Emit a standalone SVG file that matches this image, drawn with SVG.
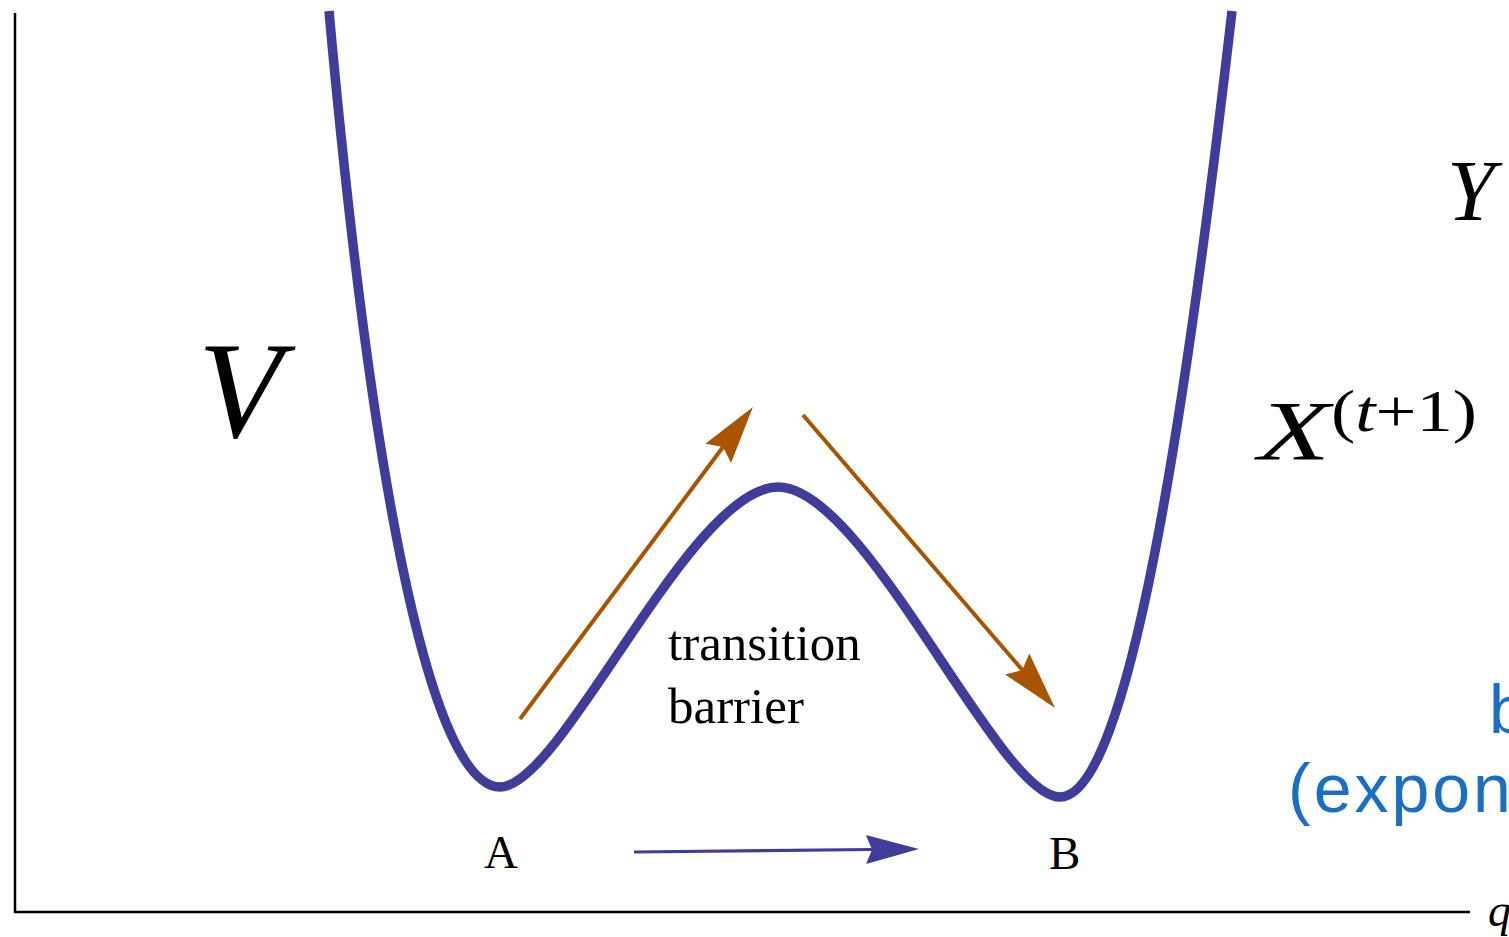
<svg xmlns="http://www.w3.org/2000/svg" width="1509" height="937" viewBox="0 0 1509 937">
<style>
.axis{stroke:#000;stroke-width:2.5;fill:none}
.curve{stroke:#403c9a;stroke-width:9.5;fill:none;stroke-linecap:butt}
.orange{stroke:#a85400;stroke-width:4;fill:none}
.blue{stroke:#403c9a;stroke-width:3.2;fill:none}
.serif{font-family:"Liberation Serif","DejaVu Serif",serif;fill:#000}
.math{font-family:"Liberation Serif","DejaVu Serif",serif;font-style:italic;fill:#000}
.sans{font-family:"Liberation Sans","Open Sans",sans-serif;fill:#1a6fc4}
</style>
<defs>
<marker id="headO" markerUnits="userSpaceOnUse" viewBox="-10 -20 62 40" markerWidth="62" markerHeight="40" refX="0" refY="0" orient="auto">
<path d="M50,0 L-8,-16 L0,0 L-8,16 Z" fill="#a85400"/>
</marker>
<marker id="headB" markerUnits="userSpaceOnUse" viewBox="-10 -20 62 40" markerWidth="62" markerHeight="40" refX="0" refY="0" orient="auto">
<path d="M47,0 L-6,-14.5 L0,0 L-6,14.5 Z" fill="#403c9a"/>
</marker>
</defs>
<rect width="1509" height="937" fill="#fff"/>
<g id="axes">
<line class="axis" x1="15" y1="13" x2="15" y2="913"/>
<line class="axis" x1="14" y1="912" x2="1470" y2="912"/>
<text class="math" x="1488" y="926" font-size="46">q</text>
</g>
<g id="potential">
<path class="curve" d="M329,11 C375,520 435,787 500,787 C562,787 690,487 778,487 C866,487 998,797 1060,797 C1128,797 1185,420 1232,11"/>
</g>
<g id="label-V"><text class="math" x="198" y="437" font-size="138">V</text></g>
<g id="label-Y"><text class="math" x="1447" y="220" font-size="86">Y</text></g>
<g id="label-X">
<text class="math" x="1258" y="460" font-size="84" textLength="72" lengthAdjust="spacingAndGlyphs">X</text>
<text class="serif" x="1331" y="431" font-size="60" textLength="146" lengthAdjust="spacingAndGlyphs">(<tspan font-style="italic">t</tspan>+1)</text>
</g>
<g id="label-transition">
<text class="serif" x="668" y="660" font-size="51">transition</text>
<text class="serif" x="668" y="723" font-size="51">barrier</text>
</g>
<g id="label-A"><text class="serif" x="484" y="868" font-size="47">A</text></g>
<g id="label-B"><text class="serif" x="1049" y="869" font-size="47">B</text></g>
<g id="label-blue">
<text class="sans" x="1489" y="733" font-size="68">b</text>
<text class="sans" x="1288" y="812" font-size="68" letter-spacing="3">(expon</text>
</g>
<g id="connectors">
<line class="orange" x1="520" y1="719" x2="723" y2="447" marker-end="url(#headO)"/>
<line class="orange" x1="803" y1="415" x2="1022.4" y2="670.1" marker-end="url(#headO)"/>
<line class="blue" x1="634" y1="852" x2="872" y2="849.5" marker-end="url(#headB)"/>
</g>
</svg>
